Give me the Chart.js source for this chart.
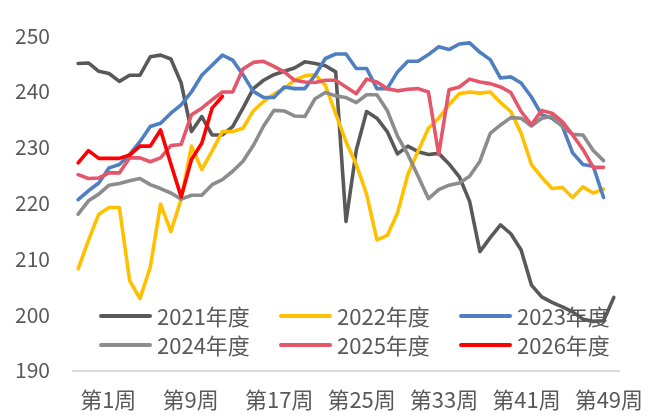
<!DOCTYPE html>
<html>
<head>
<meta charset="utf-8">
<script src="https://cdn.jsdelivr.net/npm/chart.js@4.4.0/dist/chart.umd.min.js"></script>
<style>
  html, body { margin: 0; padding: 0; background: #ffffff; }
  #wrap { width: 653px; height: 416px; position: relative; }
</style>
</head>
<body>
<div id="wrap"><canvas id="c"></canvas></div>
<script>
const weeks = ["第1周","第2周","第3周","第4周","第5周","第6周","第7周","第8周","第9周","第10周",
  "第11周","第12周","第13周","第14周","第15周","第16周","第17周","第18周","第19周","第20周",
  "第21周","第22周","第23周","第24周","第25周","第26周","第27周","第28周","第29周","第30周",
  "第31周","第32周","第33周","第34周","第35周","第36周","第37周","第38周","第39周","第40周",
  "第41周","第42周","第43周","第44周","第45周","第46周","第47周","第48周","第49周","第50周",
  "第51周","第52周","第53周"];

const seriesNames = ["2021年度","2022年度","2023年度","2024年度","2025年度","2026年度"];

const y2021 = [245.0,245.1,243.6,243.2,241.8,242.9,242.9,246.2,246.5,245.8,
  241.5,232.8,235.5,232.2,232.2,233.7,237.0,240.5,242.0,243.0,
  243.6,244.2,245.3,245.0,244.6,243.5,216.7,229.5,236.4,235.2,
  232.8,228.8,230.2,229.2,228.7,228.9,227.0,224.7,220.3,211.3,
  213.8,216.1,214.5,211.6,205.3,203.2,202.2,201.4,200.5,199.2,
  198.8,198.9,203.1];

const y2022 = [208.2,213.3,218.0,219.2,219.2,206.1,202.9,208.5,219.8,214.9,
  220.7,230.2,226.0,229.3,232.8,232.8,233.4,236.5,238.2,239.5,
  240.5,242.0,242.8,243.0,241.1,236.0,231.0,226.9,221.6,213.4,
  214.2,218.2,225.1,229.3,233.4,235.2,237.6,239.6,239.9,239.7,
  239.9,238.0,236.4,232.5,226.9,224.6,222.6,222.8,221.0,222.9,
  221.8,222.5];

const y2023 = [220.6,222.2,223.6,226.3,226.9,228.7,231.0,233.7,234.3,236.1,
  237.6,239.9,242.9,244.7,246.5,245.6,243.0,240.0,238.9,238.9,
  240.8,240.5,240.5,242.9,245.9,246.7,246.7,244.1,244.1,240.5,
  240.5,243.5,245.4,245.4,246.6,248.0,247.5,248.5,248.7,247.0,
  245.7,242.4,242.6,241.5,239.0,235.8,235.2,233.8,229.0,226.9,
  226.6,221.0];

const y2024 = [218.0,220.4,221.6,223.2,223.5,224.0,224.4,223.3,222.6,221.8,
  220.7,221.4,221.4,223.3,224.2,225.7,227.5,230.3,233.8,236.6,
  236.5,235.6,235.5,238.7,239.8,239.2,238.9,238.0,239.4,239.4,
  236.6,232.0,228.7,224.8,220.8,222.4,223.2,223.6,224.8,227.5,
  232.5,234.0,235.3,235.2,233.8,235.2,235.5,233.7,232.3,232.2,
  229.4,227.6];

const y2025 = [225.1,224.4,224.5,225.4,225.4,228.1,228.1,227.4,228.1,230.3,
  230.5,235.8,237.0,238.5,239.9,239.9,244.0,245.2,245.4,244.5,
  243.5,242.0,241.7,241.6,242.0,242.0,240.8,239.6,242.2,241.7,
  240.5,240.1,240.4,240.5,239.9,228.7,240.3,240.8,242.2,241.7,
  241.4,240.8,239.8,236.4,234.0,236.6,236.1,234.6,232.2,229.6,
  226.4,226.4];

const y2026 = [227.2,229.4,228.0,228.0,228.0,228.6,230.2,230.2,233.1,227.0,
  221.1,227.8,230.7,237.0,239.1];

const yTicks = [190,200,210,220,230,240,250];

const colors = ["#595959","#FFC000","#4F7FC0","#8C8C8C","#E4566A","#FF0000"];
const seriesData = [y2021,y2022,y2023,y2024,y2025,y2026];

const FONT = "'Noto Sans CJK SC','Noto Sans',sans-serif";
const TEXT = "#595959";

const datasets = seriesData.map((d, i) => ({
  label: seriesNames[i],
  data: d,
  borderColor: colors[i],
  backgroundColor: colors[i],
  borderWidth: 3.6,
  pointRadius: 0,
  pointHoverRadius: 0,
  tension: 0,
  fill: false,
  borderJoinStyle: 'round',
  borderCapStyle: 'round',
  order: 5 - i
}));

const legendPlugin = {
  id: 'insideLegend',
  afterDatasetsDraw(chart) {
    const ctx = chart.ctx;
    const colX = [99, 279, 459];
    const rowY = [316, 345];
    ctx.save();
    ctx.font = "22px " + FONT;
    ctx.textBaseline = 'middle';
    ctx.textAlign = 'left';
    chart.data.datasets.forEach((ds, i) => {
      const x = colX[i % 3];
      const y = rowY[Math.floor(i / 3)];
      ctx.strokeStyle = ds.borderColor;
      ctx.lineWidth = 4;
      ctx.lineCap = 'round';
      ctx.beginPath();
      ctx.moveTo(x + 2, y);
      ctx.lineTo(x + 51, y);
      ctx.stroke();
      ctx.fillStyle = TEXT;
      ctx.fillText(ds.label, x + 58, y + 1);
    });
    ctx.restore();
  }
};

new Chart(document.getElementById('c'), {
  type: 'line',
  data: { labels: weeks, datasets: datasets },
  options: {
    responsive: true,
    maintainAspectRatio: false,
    animation: false,
    events: [],
    layout: { padding: { top: 33, right: 34, left: 0, bottom: 0 } },
    plugins: {
      legend: { display: false },
      tooltip: { enabled: false },
      title: { display: false }
    },
    scales: {
      x: {
        type: 'category',
        offset: true,
        grid: { display: false, drawTicks: false },
        border: { display: true, color: '#D9D9D9', width: 2 },
        ticks: {
          autoSkip: false,
          maxRotation: 0,
          minRotation: 0,
          align: 'start',
          labelOffset: 2,
          padding: 16,
          color: TEXT,
          font: { family: FONT, size: 22 },
          callback: function(v, idx) { return idx % 8 === 0 ? weeks[idx] : ''; }
        },
        afterFit: function(s) { s.height = 45.5; }
      },
      y: {
        min: 190,
        max: 250,
        afterBuildTicks: function(s) { s.ticks = yTicks.map(v => ({ value: v })); },
        grid: { display: false, drawTicks: false },
        border: { display: false },
        ticks: {
          padding: 23,
          color: TEXT,
          font: { family: FONT, size: 21 }
        },
        afterFit: function(s) { s.width = 73; }
      }
    }
  },
  plugins: [legendPlugin]
});
</script>
</body>
</html>
